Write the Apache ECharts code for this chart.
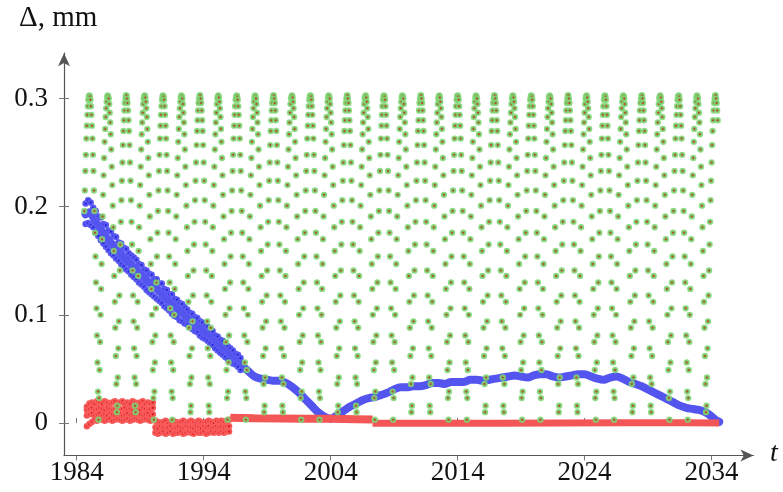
<!DOCTYPE html>
<html>
<head>
<meta charset="utf-8">
<script src="https://cdn.jsdelivr.net/npm/echarts@6/dist/echarts.min.js"></script>
<style>html,body{margin:0;padding:0;background:#fff}#c{width:783px;height:492px}</style>
</head>
<body>
<div id="c"></div>
<script>
// ---------- data (values in thousandths of mm) ----------
const xTicks = [1984, 1994, 2004, 2014, 2024, 2034];
const yTicks = [0, 0.1, 0.2, 0.3];

// green points: regular time grid starting 1984.6, step 0.04 yr
const greenT0 = 1984.6;
const greenStep = 0.04;
const greenV = [
196,215,233,248,263,275,285,293,299,302,
303,302,299,293,285,275,263,248,233,215,196,176,154,130,106,81,56,29,3,23,49,75,100,124,147,170,191,211,229,245,260,272,283,291,297,301,303,
302,300,295,287,278,267,253,237,220,201,181,159,136,112,88,62,36,10,16,42,69,94,118,141,165,186,206,224,241,257,270,280,289,296,300,303,
303,300,296,289,280,270,257,241,224,206,186,165,141,118,94,69,42,16,10,36,62,88,112,136,159,181,201,220,237,253,267,278,287,295,300,302,
303,301,297,291,283,272,260,245,229,211,191,170,147,124,100,75,49,23,3,29,56,81,106,130,154,176,196,215,233,248,263,275,285,293,299,302,
303,302,299,293,285,275,263,248,233,215,196,176,154,130,106,81,56,29,3,23,49,75,100,124,147,170,191,211,229,245,260,272,283,291,297,301,303,
302,300,295,287,278,267,253,237,220,201,181,159,136,112,88,62,36,10,16,42,69,94,118,141,165,186,206,224,241,257,270,280,289,296,300,303,
303,300,296,289,280,270,257,241,224,206,186,165,141,118,94,69,42,16,10,36,62,88,112,136,159,181,201,220,237,253,267,278,287,295,300,302,
303,301,297,291,283,272,260,245,229,211,191,170,147,124,100,75,49,23,3,29,56,81,106,130,154,176,196,215,233,248,263,275,285,293,299,302,
303,302,299,293,285,275,263,248,233,215,196,176,154,130,106,81,56,29,3,23,49,75,100,124,147,170,191,211,229,245,260,272,283,291,297,301,303,
302,300,295,287,278,267,253,237,220,201,181,159,136,112,88,62,36,10,16,42,69,94,118,141,165,186,206,224,241,257,270,280,289,296,300,303,
303,300,296,289,280,270,257,241,224,206,186,165,141,118,94,69,42,16,10,36,62,88,112,136,159,181,201,220,237,253,267,278,287,295,300,302,
303,301,297,291,283,272,260,245,229,211,191,170,147,124,100,75,49,23,3,29,56,81,106,130,154,176,196,215,233,248,263,275,285,293,299,302,
303,302,299,293,285,275,263,248,233,215,196,176,154,130,106,81,56,29,3,23,49,75,100,124,147,170,191,211,229,245,260,272,283,291,297,301,303,
302,300,295,287,278,267,253,237,220,201,181,159,136,112,88,62,36,10,16,42,69,94,118,141,165,186,206,224,241,257,270,280,289,296,300,303,
303,300,296,289,280,270,257,241,224,206,186,165,141,118,94,69,42,16,10,36,62,88,112,136,159,181,201,220,237,253,267,278,287,295,300,302,
303,301,297,291,283,272,260,245,229,211,191,170,147,124,100,75,49,23,3,29,56,81,106,130,154,176,196,215,233,248,263,275,285,293,299,302,
303,302,299,293,285,275,263,248,233,215,196,176,154,130,106,81,56,29,3,23,49,75,100,124,147,170,191,211,229,245,260,272,283,291,297,301,303,
302,300,295,287,278,267,253,237,220,201,181,159,136,112,88,62,36,10,16,42,69,94,118,141,165,186,206,224,241,257,270,280,289,296,300,303,
303,300,296,289,280,270,257,241,224,206,186,165,141,118,94,69,42,16,10,36,62,88,112,136,159,181,201,220,237,253,267,278,287,295,300,302,
303,301,297,291,283,272,260,245,229,211,191,170,147,124,100,75,49,23,3,29,56,81,106,130,154,176,196,215,233,248,263,275,285,293,299,302,
303,302,299,293,285,275,263,248,233,215,196,176,154,130,106,81,56,29,3,23,49,75,100,124,147,170,191,211,229,245,260,272,283,291,297,301,303,
302,300,295,287,278,267,253,237,220,201,181,159,136,112,88,62,36,10,16,42,69,94,118,141,165,186,206,224,241,257,270,280,289,296,300,303,
303,300,296,289,280,270,257,241,224,206,186,165,141,118,94,69,42,16,10,36,62,88,112,136,159,181,201,220,237,253,267,278,287,295,300,302,
303,301,297,291,283,272,260,245,229,211,191,170,147,124,100,75,49,23,3,29,56,81,106,130,154,176,196,215,233,248,263,275,285,293,299,302,
303,302,299,293,285,275,263,248,233,215,196,176,154,130,106,81,56,29,3,23,49,75,100,124,147,170,191,211,229,245,260,272,283,291,297,301,303,
302,300,295,287,278,267,253,237,220,201,181,159,136,112,88,62,36,10,16,42,69,94,118,141,165,186,206,224,241,257,270,280,289,296,300,303,
303,300,296,289,280,270,257,241,224,206,186,165,141,118,94,69,42,16,10,36,62,88,112,136,159,181,201,220,237,253,267,278,287,295,300,302,
303,301,297,291,283,272,260,245,229,211,191,170,147,124,100,75,49,23,3,29,56,81,106,130,154,176,196,215,233,248,263,275,285,293,299,302,
303,302,299,293,285,275,263,248,233,215,196,176,154,130,106,81,56,29,3,23,49,75,100,124,147,170,191,211,229,245,260,272,283,291,297,301,303,
302,300,295,287,278,267,253,237,220,201,181,159,136,112,88,62,36,10,16,42,69,94,118,141,165,186,206,224,241,257,270,280,289,296,300,303,
303,300,296,289,280,270,257,241,224,206,186,165,141,118,94,69,42,16,10,36,62,88,112,136,159,181,201,220,237,253,267,278,287,295,300,302,
303,301,297,291,283,272,260,245,229,211,191,170,147,124,100,75,49,23,3,29,56,81,106,130,154,176,196,215,233,248,263,275,285,293,299,302,
303,302,299,293,285,275,263,248,233,215,196,176,154,130,106,81,56,29,3,23,49,75,100,124,147,170,191,211,229,245,260,272,283,291,297,301,303,
302,300,295,287,278,267,253,237,220,201,181,159,136,112,88,62,36,10,16,42,69,94,118,141,165,186,206,224,241,257,270,280,289,296,300,303,
303,300,296,289,280
];

// blue centre line
const blueT = [1984.7,1985.0,1985.5,1986.0,1986.5,1987.0,1987.5,1988.0,1988.5,1989.0,1989.5,1990.0,1990.5,1991.0,1991.5,1992.0,1992.5,1993.0,1993.5,1994.0,1994.5,1995.0,1995.5,1996.0,1996.5,1997.0,1997.5,1998.0,1998.5,1999.0,1999.5,2000.0,2000.5,2001.0,2001.5,2002.0,2002.5,2003.0,2003.5,2004.0,2004.5,2005.0,2005.5,2006.0,2006.5,2007.0,2007.5,2008.0,2008.5,2009.0,2009.5,2010.0,2010.5,2011.0,2011.5,2012.0,2012.5,2013.0,2013.5,2014.0,2014.5,2015.0,2015.5,2016.0,2016.5,2017.0,2017.5,2018.0,2018.5,2019.0,2019.5,2020.0,2020.5,2021.0,2021.5,2022.0,2022.5,2023.0,2023.5,2024.0,2024.5,2025.0,2025.5,2026.0,2026.5,2027.0,2027.5,2028.0,2028.5,2029.0,2029.5,2030.0,2030.5,2031.0,2031.5,2032.0,2032.5,2033.0,2033.5,2034.0,2034.3,2034.6];
const blueV = [193,195,186,177,169,163,156,150,144,138,132,127,122,116,110,105,100,95,90,85,80,74,69,63,58,53,48,43,41,40,39,39,37,33,28,22,16,10,6,4,7,11,15,18,21,23,24,26,28,31,33,33,34,34,35,37,37,36,38,38,38,40,40,39,40,41,42,43,44,43,42,44,45,45,43,42,43,44,45,45,43,41,40,42,43,41,38,36,34,31,28,25,22,19,16,14,13,12,10,6,3,1];

// blue scatter (early noisy band), grid from 1984.7 step 0.2
const blueNoiseT0 = 1984.7;
const blueNoiseStep = 0.2;
const blueHi = [203,206,204,199,196,191,190,184,183,178,177,173,172,167,166,162,161,157,155,153,151,147,146,142,141,138,137,133,133,129,129,124,123,119,119,115,114,111,110,107,105,102,101,98,97,94,93,90,89,86,85,81,80,77,76,73,71,69,67,64,63,60];
const blueLo = [184,185,183,181,176,173,169,166,163,160,157,155,152,150,147,145,142,140,137,135,133,130,128,126,123,121,119,117,115,113,111,108,106,104,101,99,98,95,94,92,91,89,87,85,84,81,79,78,76,74,72,69,67,65,63,61,59,57,55,54,52,49];

// red, block 1 (1984.8 .. 1990.0, step 0.2), four rows
const red1T0 = 1984.8;
const red1A = [15,18,19,18,20,19,18,20,19,18,19,20,18,19,20,18,19,18,20,19,18,19,20,18,19,18,19];
const red1B = [12,13,14,12,13,14,13,12,14,13,12,13,14,12,13,14,12,13,12,14,13,12,14,13,12,13,14];
const red1C = [7,8,9,7,8,9,7,8,7,9,8,7,8,9,7,8,9,7,8,7,9,8,7,8,9,7,8];
const red1D = [-3,-1,1,3,2,4,3,2,3,4,2,3,4,3,2,3,4,2,3,4,3,2,3,4,3,2,3];
// red, block 2 (1990.2 .. 1996.0, step 0.2), three rows
const red2T0 = 1990.2;
const red2A = [2,1,0,1,2,0,1,2,1,0,1,2,0,1,2,1,0,2,1,0,1,2,1,0,2,1,2,1,2,3];
const red2B = [-4,-5,-3,-4,-5,-4,-3,-5,-4,-3,-4,-5,-3,-4,-4,-5,-3,-4,-5,-3,-4,-3,-5,-4,-3,-4,-3,-4,-3,-3];
const red2C = [-9,-10,-9,-8,-10,-9,-8,-10,-9,-9,-8,-10,-9,-8,-9,-10,-8,-9,-9,-8,-10,-9,-8,-9,-8,-9,-8,-9,-8,-8];
const redStep = 0.2;
// red, blocks 3 and 4 (continuous bands)
const red3T = [1996.1,1998,2000,2002,2004,2006,2007.3];
const red3V = [4.8,4.4,4.2,4.0,3.8,3.5,3.2];
const red4T = [2007.3,2012,2017,2022,2027,2032,2034.6];
const red4V = [-0.3,-0.3,-0.2,0.0,0.1,0.2,0.0];

// ---------- build ----------
const r = v => Math.round(v * 1000) / 1000;
const grid = (t0, step, arr) => arr.map((v, i) => [r(t0 + step * i), v / 1000]);
const pairs = (ts, vs) => ts.map((t, i) => [t, vs[i] / 1000]);

const greenData = grid(greenT0, greenStep, greenV);
const blueLine = pairs(blueT, blueV);
const blueDots = grid(blueNoiseT0, blueNoiseStep, blueHi).concat(grid(blueNoiseT0, blueNoiseStep, blueLo));
const redDots = [].concat(
  grid(red1T0, redStep, red1A), grid(red1T0, redStep, red1B), grid(red1T0, redStep, red1C), grid(red1T0, redStep, red1D),
  grid(red2T0, redStep, red2A), grid(red2T0, redStep, red2B), grid(red2T0, redStep, red2C));
const red3 = pairs(red3T, red3V);
const red4 = pairs(red4T, red4V);

const FONT = '"Liberation Serif", "DejaVu Serif", serif';
const AX = '#555';

const chart = echarts.init(document.getElementById('c'), null, {renderer: 'canvas'});
const xBase = {type: 'value', min: 1983, max: 2037.3, splitLine: {show: false}};
const yBase = {type: 'value', min: -0.03, max: 0.342, splitLine: {show: false}};
chart.setOption({
  animation: false,
  backgroundColor: '#fff',
  grid: {left: 64, right: 29.5, top: 53.2, bottom: 36.6, containLabel: false},
  xAxis: [
    Object.assign({}, xBase, {
      axisLine: {show: true, onZero: false, lineStyle: {color: AX, width: 1.2}, symbol: ['none', 'arrow'], symbolSize: [9, 13]},
      axisTick: {show: true, customValues: xTicks, length: 5, lineStyle: {color: '#777', width: 1}},
      axisLabel: {customValues: xTicks, formatter: v => String(v), fontFamily: FONT, fontSize: 27, color: '#111', margin: 4}
    }),
    Object.assign({}, xBase, {
      position: 'bottom',
      axisLine: {show: false},
      axisTick: {show: true, inside: true, customValues: xTicks, length: 5, lineStyle: {color: '#777', width: 1}},
      axisLabel: {show: false}
    })
  ],
  yAxis: [
    Object.assign({}, yBase, {
      axisLine: {show: true, onZero: false, lineStyle: {color: AX, width: 1.2}, symbol: ['none', 'arrow'], symbolSize: [9, 13]},
      axisTick: {show: true, customValues: yTicks, length: 5, lineStyle: {color: '#777', width: 1}},
      axisLabel: {customValues: yTicks, formatter: v => String(v), fontFamily: FONT, fontSize: 27, color: '#111', margin: 16}
    }),
    Object.assign({}, yBase, {
      position: 'left',
      axisLine: {show: false},
      axisTick: {show: true, inside: true, customValues: yTicks, length: 5, lineStyle: {color: '#777', width: 1}},
      axisLabel: {show: false}
    })
  ],
  graphic: [
    {type: 'text', left: 19, top: 4, style: {text: 'Δ, mm', font: '29px ' + FONT, fill: '#111'}},
    {type: 'text', left: 770, top: 440, style: {text: 't', font: 'italic 28px ' + FONT, fill: '#111'}}
  ],
  series: [
    {type: 'line', data: blueLine, symbol: 'none', smooth: 0.3, lineStyle: {color: '#5454ef', width: 8, cap: 'round', join: 'round'}, z: 2},
    {type: 'scatter', data: blueDots, symbolSize: 4.5, itemStyle: {color: '#2a2ad8', borderColor: '#5a5af2', borderWidth: 2, opacity: 1}, z: 3},
    {type: 'line', data: red3, symbol: 'none', lineStyle: {color: '#f35656', width: 8, cap: 'butt'}, z: 4},
    {type: 'line', data: red4, symbol: 'none', lineStyle: {color: '#f35656', width: 7, cap: 'butt'}, z: 4},
    {type: 'scatter', data: redDots, symbolSize: 4.5, itemStyle: {color: '#d42020', borderColor: '#f85a5a', borderWidth: 2, opacity: 1}, z: 5},
    {type: 'scatter', data: greenData, symbolSize: 4.2, itemStyle: {color: '#b4412c', borderColor: 'rgba(125,215,115,0.85)', borderWidth: 2.2, opacity: 1}, z: 6}
  ]
});
</script>
</body>
</html>
